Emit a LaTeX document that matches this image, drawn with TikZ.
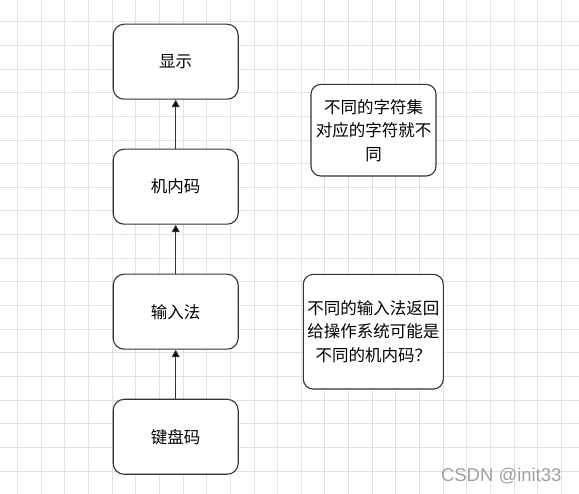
\documentclass[tikz,border=0pt]{standalone}
\usepackage{fontspec}
\newfontfamily\cjk{Noto Sans CJK SC}
\newfontfamily\wmfont{Liberation Sans}
\usepackage{tikz}
\usetikzlibrary{arrows.meta}
\definecolor{boxline}{HTML}{333333}
\definecolor{gridgray}{HTML}{E2E2E2}
\definecolor{markgray}{HTML}{A0A0A0}

\begin{document}
\begin{tikzpicture}[x=1pt,y=-1pt,>={Triangle[length=7.5pt,width=8pt]},
    box/.style={shape=rectangle,rounded corners=11pt,draw=boxline,fill=white,line width=1.1pt,
        minimum width=125pt,minimum height=75pt,inner sep=0pt,font=\cjk\fontsize{16.5}{23.5}\selectfont},
    note/.style={box,rounded corners=10pt,align=center},
    gridline/.style={draw=gridgray,line width=1pt}]
    \fill[white] (0,0) rectangle (579,494);
    \useasboundingbox (0,0) rectangle (579,494);
    \foreach \i in {0,...,23} \draw[gridline] ({17.5+23.65*\i},0) -- ({17.5+23.65*\i},494);
    \foreach \j in {0,...,19} \draw[gridline] (0,{21.8+23.65*\j}) -- (579,{21.8+23.65*\j});
    \node[box] (0) at (175.7,436.8) {键盘码};
    \node[box] (1) at (175.7,311.7) {输入法};
    \node[box] (2) at (175.7,186.7) {机内码};
    \node[box] (3) at (175.7,61.7) {显示};
    \node[note,minimum width=125pt,minimum height=91.7pt] (4) at (373.5,130.2) {不同的字符集\\对应的字符就不\\同};
    \node[note,minimum width=140pt,minimum height=114.7pt] (5) at (373.3,331.7) {不同的输入法返回\\给操作系统可能是\\不同的机内码？};
    \path[->,draw=boxline,line width=1.1pt](0) edge node {} (1);
    \path[->,draw=boxline,line width=1.1pt](1) edge node {} (2);
    \path[->,draw=boxline,line width=1.1pt](2) edge node {} (3);
    \node[anchor=base west,inner sep=0pt,text=markgray,font=\wmfont\fontsize{18.5}{20}\selectfont] (6) at (440.8,481.7) {CSDN @init33};
\end{tikzpicture}
\end{document}
